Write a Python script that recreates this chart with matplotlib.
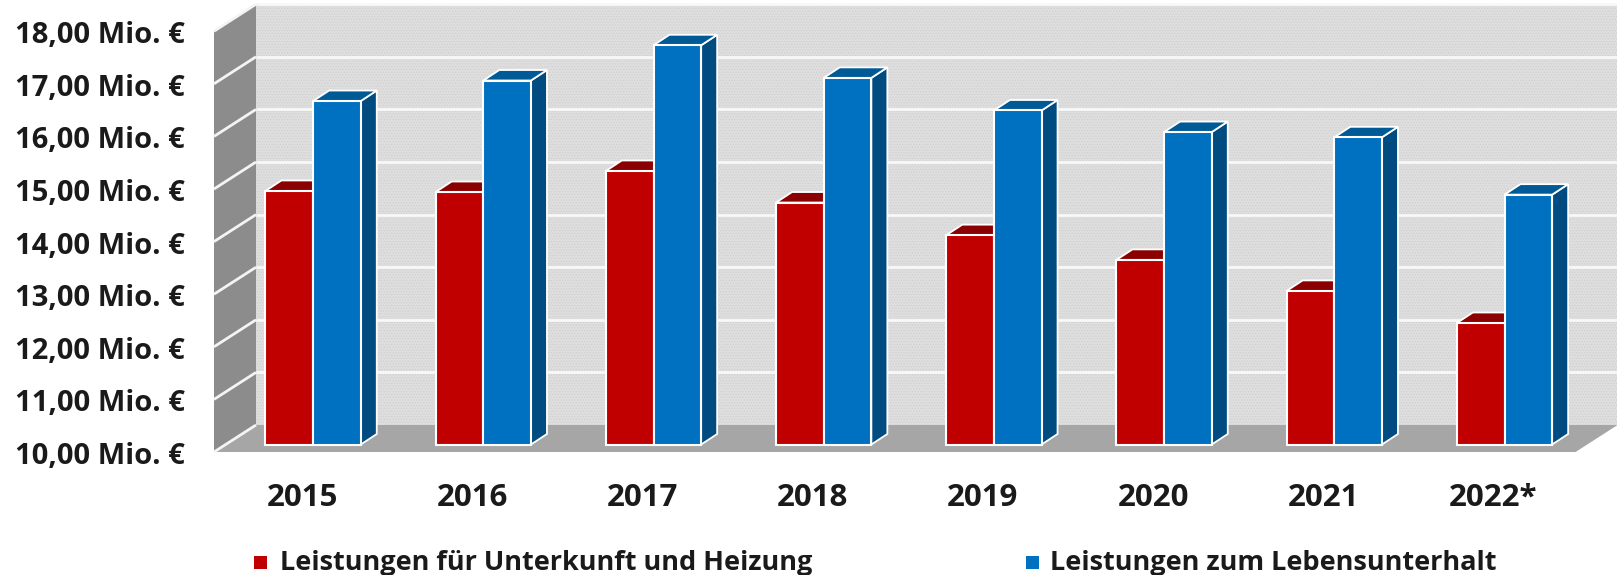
import matplotlib
matplotlib.use("Agg")
import matplotlib.pyplot as plt
from matplotlib.patches import Polygon, Rectangle
from matplotlib.transforms import Affine2D

years = ["2015", "2016", "2017", "2018", "2019", "2020", "2021", "2022*"]
unterkunft = [14.82, 14.80, 15.20, 14.60, 13.98, 13.51, 12.92, 12.31]
lebensunterhalt = [16.53, 16.92, 17.59, 16.97, 16.35, 15.94, 15.84, 14.75]
y_ticks = [10, 11, 12, 13, 14, 15, 16, 17, 18]
y_labels = ["10,00 Mio. €", "11,00 Mio. €", "12,00 Mio. €", "13,00 Mio. €", "14,00 Mio. €",
            "15,00 Mio. €", "16,00 Mio. €", "17,00 Mio. €", "18,00 Mio. €"]
legend_labels = ["Leistungen für Unterkunft und Heizung", "Leistungen zum Lebensunterhalt"]

W, H = 1617, 575
plt.rcParams["font.family"] = ["Open Sans", "DejaVu Sans"]
plt.rcParams["hatch.linewidth"] = 0.5
fig = plt.figure(figsize=(W / 100, H / 100), dpi=100, facecolor="white")

# plot area is the plane the bars stand on, walls are drawn around it
base_y, unit_y = 444.5, 52.6
left, unit_x = 228.0, 170.2
ax = fig.add_axes([left / W, (H - base_y) / H, 8 * unit_x / W, 8 * unit_y / H])
ax.set_xlim(-0.5, 7.5)
ax.set_ylim(10, 18)
ax.axis("off")

# fake 3d offsets, pixels converted to data units
front_dx, front_dy = -14.0 / unit_x, -7.5 / unit_y
back_dx, back_dy = 28.0 / unit_x, 19.5 / unit_y
bar_dx, bar_dy = 16.0 / unit_x, 10.5 / unit_y
bar_w = 0.28


def poly(pts, color, z, **kw):
    p = Polygon(pts, closed=True, facecolor=color, clip_on=False, zorder=z, **kw)
    ax.add_patch(p)


x0, x1 = -0.5, 7.5
# back wall
poly([(x0 + back_dx, 10 + back_dy), (x1 + back_dx, 10 + back_dy),
      (x1 + back_dx, 18 + back_dy), (x0 + back_dx, 18 + back_dy)],
     "#dedede", 1, hatch="......", edgecolor="#cfcfcf", linewidth=0)
# side wall
poly([(x0 + front_dx, 10 + front_dy), (x0 + back_dx, 10 + back_dy),
      (x0 + back_dx, 18 + back_dy), (x0 + front_dx, 18 + front_dy)],
     "#8c8c8c", 1, edgecolor="none")
# floor
poly([(x0 + front_dx, 10 + front_dy), (x1 + front_dx, 10 + front_dy),
      (x1 + back_dx, 10 + back_dy), (x0 + back_dx, 10 + back_dy)],
     "#a6a6a6", 1, edgecolor="none")

# gridlines on both walls
for v in y_ticks:
    ax.plot([x0 + front_dx, x0 + back_dx], [v + front_dy, v + back_dy], color="#f4f4f4", lw=2,
            clip_on=False, zorder=2, solid_capstyle="butt")
    if v > 10:
        ax.plot([x0 + back_dx, x1 + back_dx], [v + back_dy, v + back_dy], color="#f8f8f8", lw=2,
                clip_on=False, zorder=2, solid_capstyle="butt")

# bars
for i in range(len(years)):
    for j, (vals, face, top, side) in enumerate([
        (unterkunft, "#c00000", "#8b0000", "#7a0000"),
        (lebensunterhalt, "#0070c0", "#005a96", "#004b80"),
    ]):
        xa = i - bar_w + j * bar_w
        xb = xa + bar_w
        v = vals[i]
        z = 3 + i * 3 + j * 3
        poly([(xb, 10), (xb + bar_dx, 10 + bar_dy), (xb + bar_dx, v + bar_dy), (xb, v)],
             side, z, edgecolor="white", linewidth=1.3)
        poly([(xa, v), (xb, v), (xb + bar_dx, v + bar_dy), (xa + bar_dx, v + bar_dy)],
             top, z, edgecolor="white", linewidth=1.3)
        ax.bar(i - bar_w / 2 + j * bar_w, v - 10, bottom=10, width=bar_w, color=face,
               edgecolor="white", linewidth=1.5, zorder=z + 1, clip_on=False)

# tick labels sit at the front edge of the walls
label_shift = Affine2D().translate(0, -12)
label_x = (185 - left) / (8 * unit_x)
for v, lab in zip(y_ticks, y_labels):
    ax.text(label_x, v, lab, transform=ax.get_yaxis_transform() + label_shift, ha="right",
            va="center", fontsize=21, fontweight="bold", color="#1a1a1a", clip_on=False)

for i, year in enumerate(years):
    ax.text(i - 11 / unit_x, 10 - 53 / unit_y, year, ha="center", va="center", fontsize=22.5,
            fontweight="bold", color="#1a1a1a", clip_on=False)

# legend
legend_y = 562.5
for xm, xt, color, lab in [(254, 280, "#c00000", legend_labels[0]),
                           (1026, 1050, "#0070c0", legend_labels[1])]:
    fig.add_artist(Rectangle((xm / W, (H - legend_y - 6.5) / H), 13 / W, 13 / H, facecolor=color,
                             edgecolor="none", transform=fig.transFigure))
    fig.text(xt / W, (H - legend_y - 1) / H, lab, ha="left", va="center", fontsize=19.5,
             fontweight="bold", color="#1a1a1a")

fig.savefig("out.png", dpi=100, facecolor="white")
